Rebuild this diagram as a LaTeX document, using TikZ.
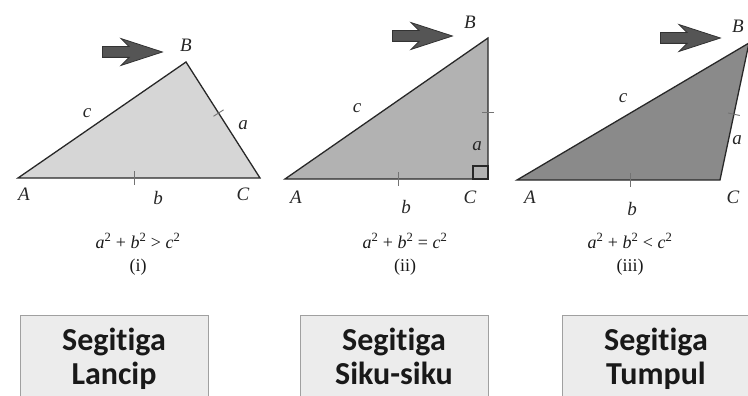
\documentclass[tikz,border=0pt]{standalone}
\usepackage{fontspec}
\setmainfont{Liberation Serif}
\newfontfamily\boxfont[Ligatures=NoCommon]{Carlito}
\usetikzlibrary{shapes,arrows,positioning,calc}
\definecolor{triline}{RGB}{40,40,40}
\definecolor{lancipgray}{RGB}{214,214,214}
\definecolor{sikugray}{RGB}{178,178,178}
\definecolor{tumpulgray}{RGB}{138,138,138}
\definecolor{arrowgray}{RGB}{85,85,85}
\definecolor{boxgray}{RGB}{236,236,236}
\definecolor{boxline}{RGB}{160,160,160}
\newcommand{\sqterm}[1]{\textit{#1}\textsuperscript{2}}

\begin{document}
\begin{tikzpicture}[x=1pt, y=-1pt,
    tri/.style={draw=triline, line width=1.3pt, line join=miter},
    vlabel/.style={font=\fontsize{19}{22}\selectfont\itshape, text=black!85, inner sep=0pt},
    eqlabel/.style={font=\fontsize{18}{21}\selectfont, text=black!90, inner sep=0pt},
    tick/.style={draw=black!55, line width=0.9pt},
    pointer/.style={single arrow, fill=arrowgray, draw=black!80, line width=0.8pt,
        minimum height=60pt, inner xsep=0pt, inner ysep=5pt, single arrow head extend=8pt,
        single arrow tip angle=36, single arrow head indent=8pt, anchor=tail},
    namebox/.style={draw=boxline, fill=boxgray, line width=1pt, minimum width=188pt,
        align=center, anchor=north, inner ysep=13pt, text=black!90,
        font=\boxfont\fontsize{32}{34}\selectfont\bfseries}]
				\clip (0,0) rectangle (748,396);
				
				% Triangle (i): lancip
				\coordinate (A1) at (18,178);
				\coordinate (B1) at (186,62);
				\coordinate (C1) at (260,178);
				\draw[tri, fill=lancipgray] (A1) -- (B1) -- (C1) -- cycle;
				\coordinate (t1) at ($(A1)!0.48!(C1)$);
				\coordinate (u1) at ($(B1)!0.44!(C1)$);
				\draw[tick] ($(t1)!7pt!90:(C1)$) -- ($(t1)!7pt!-90:(C1)$);
				\draw[tick] ($(u1)!6pt!90:(C1)$) -- ($(u1)!6pt!-90:(C1)$);
				
				% Triangle (ii): siku-siku
				\coordinate (A2) at (285,179);
				\coordinate (B2) at (488,38);
				\coordinate (C2) at (488,179);
				\draw[tri, fill=sikugray] (A2) -- (B2) -- (C2) -- cycle;
				\draw[triline, line width=1.1pt] (C2) rectangle ++(-15,-13);
				\coordinate (t2) at ($(A2)!0.56!(C2)$);
				\coordinate (u2) at ($(B2)!0.53!(C2)$);
				\draw[tick] ($(t2)!7pt!90:(C2)$) -- ($(t2)!7pt!-90:(C2)$);
				\draw[tick] ($(u2)!6pt!90:(C2)$) -- ($(u2)!6pt!-90:(C2)$);
				
				% Triangle (iii): tumpul
				\coordinate (A3) at (517,180);
				\coordinate (B3) at (749,43);
				\coordinate (C3) at (720,180);
				\draw[tri, fill=tumpulgray] (A3) -- (B3) -- (C3) -- cycle;
				\coordinate (t3) at ($(A3)!0.56!(C3)$);
				\coordinate (u3) at ($(B3)!0.52!(C3)$);
				\draw[tick] ($(t3)!7pt!90:(C3)$) -- ($(t3)!7pt!-90:(C3)$);
				\draw[tick] ($(u3)!6pt!90:(C3)$) -- ($(u3)!6pt!-90:(C3)$);
				
				% Arrows pointing to B
				\node[pointer] (arr1) at (102,52) {};
				\node[pointer] (arr2) at (392,36) {};
				\node[pointer] (arr3) at (660,38) {};
				
				% Vertex and side labels
				\node[vlabel] (lA1) at (24,194) {A};
				\node[vlabel] (lB1) at (186,45) {B};
				\node[vlabel] (lC1) at (243,194) {C};
				\node[vlabel] (la1) at (243,125) {a};
				\node[vlabel] (lb1) at (158,198) {b};
				\node[vlabel] (lc1) at (87,113) {c};
				
				\node[vlabel] (lA2) at (296,197) {A};
				\node[vlabel] (lB2) at (470,22) {B};
				\node[vlabel] (lC2) at (470,197) {C};
				\node[vlabel] (la2) at (477,146) {a};
				\node[vlabel] (lb2) at (406,207) {b};
				\node[vlabel] (lc2) at (357,108) {c};
				
				\node[vlabel] (lA3) at (530,197) {A};
				\node[vlabel] (lB3) at (738,26) {B};
				\node[vlabel] (lC3) at (733,197) {C};
				\node[vlabel] (la3) at (737,140) {a};
				\node[vlabel] (lb3) at (632,209) {b};
				\node[vlabel] (lc3) at (623,98) {c};
				
				% Relations
				\node[eqlabel] (eq1) at (138,241) {\sqterm{a} + \sqterm{b} > \sqterm{c}};
				\node[eqlabel] (no1) at (138,267) {(i)};
				\node[eqlabel] (eq2) at (405,241) {\sqterm{a} + \sqterm{b} = \sqterm{c}};
				\node[eqlabel] (no2) at (405,267) {(ii)};
				\node[eqlabel] (eq3) at (630,241) {\sqterm{a} + \sqterm{b} < \sqterm{c}};
				\node[eqlabel] (no3) at (630,267) {(iii)};
				
				% Name boxes
				\node[namebox] (lancip) at (114,315) {Segitiga\\Lancip};
				\node[namebox] (siku) at (394,315) {Segitiga\\Siku-siku};
				\node[namebox] (tumpul) at (656,315) {Segitiga\\Tumpul};
			\end{tikzpicture}
\end{document}
